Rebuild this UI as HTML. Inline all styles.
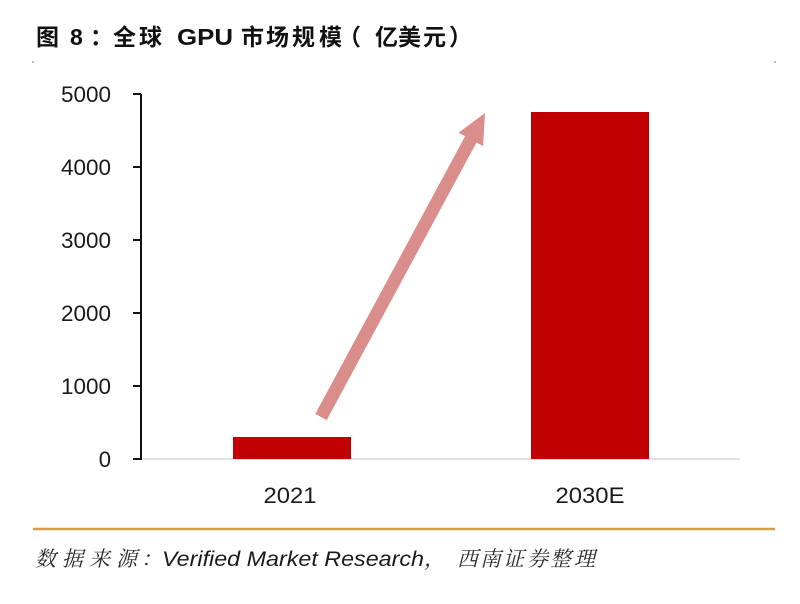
<!DOCTYPE html>
<html>
<head>
<meta charset="utf-8">
<style>
html,body{margin:0;padding:0;background:#fff;}
svg{display:block;}
.t{font-family:"Liberation Sans","Noto Sans CJK SC",sans-serif;font-weight:bold;font-size:23px;fill:#111;}
.y{font-family:"Liberation Sans",sans-serif;font-size:22px;fill:#1a1a1a;}
.s{font-family:"Liberation Sans","Noto Serif CJK SC",serif;font-style:italic;font-size:21px;fill:#2a2a2a;}
.l{font-family:"Liberation Sans",sans-serif;font-style:italic;font-size:21px;fill:#1a1a1a;}
</style>
</head>
<body>
<svg width="800" height="604" viewBox="0 0 800 604" xmlns="http://www.w3.org/2000/svg">
<rect x="0" y="0" width="800" height="604" fill="#fff"/>
<!-- title -->
<text class="t" x="36" y="45">图</text>
<text class="t" x="70" y="45">8</text>
<text class="t" x="90" y="45">：</text>
<text class="t" x="113" y="45">全</text>
<text class="t" x="139" y="45">球</text>
<text class="t" x="177" y="45" textLength="56" lengthAdjust="spacingAndGlyphs">GPU</text>
<text class="t" x="241" y="45">市</text>
<text class="t" x="266" y="45">场</text>
<text class="t" x="292" y="45">规</text>
<text class="t" x="319" y="45">模</text>
<text class="t" x="338" y="45">（</text>
<text class="t" x="375" y="45">亿</text>
<text class="t" x="398" y="45">美</text>
<text class="t" x="423" y="45">元</text>
<text class="t" x="449" y="45">）</text>
<!-- corner dots -->
<rect x="32" y="61" width="2" height="2" fill="#bbb"/>
<rect x="774" y="61" width="2" height="2" fill="#bbb"/>
<!-- y axis -->
<line x1="141" y1="94" x2="141" y2="460" stroke="#111" stroke-width="2"/>
<g stroke="#111" stroke-width="2">
<line x1="133" y1="94" x2="141" y2="94"/>
<line x1="133" y1="167" x2="141" y2="167"/>
<line x1="133" y1="240" x2="141" y2="240"/>
<line x1="133" y1="313" x2="141" y2="313"/>
<line x1="133" y1="386" x2="141" y2="386"/>
<line x1="133" y1="459" x2="141" y2="459"/>
</g>
<text class="y" x="111" y="102" text-anchor="end" textLength="50" lengthAdjust="spacingAndGlyphs">5000</text>
<text class="y" x="111" y="175" text-anchor="end" textLength="50" lengthAdjust="spacingAndGlyphs">4000</text>
<text class="y" x="111" y="248" text-anchor="end" textLength="50" lengthAdjust="spacingAndGlyphs">3000</text>
<text class="y" x="111" y="321" text-anchor="end" textLength="50" lengthAdjust="spacingAndGlyphs">2000</text>
<text class="y" x="111" y="394" text-anchor="end" textLength="50" lengthAdjust="spacingAndGlyphs">1000</text>
<text class="y" x="111" y="467" text-anchor="end">0</text>
<!-- baseline -->
<line x1="142" y1="459" x2="740" y2="459" stroke="#d9d9d9" stroke-width="1.5"/>
<!-- bars -->
<rect x="233" y="437" width="118" height="22" fill="#c00000"/>
<rect x="531" y="112" width="118" height="347" fill="#c00000"/>
<!-- arrow -->
<polygon points="315.3,413.9 465.1,136.3 458.5,132.8 485,113 483.1,146.1 476.5,142.5 326.7,420.1" fill="#d98e8c"/>
<!-- x labels -->
<text class="y" x="290" y="503" text-anchor="middle" textLength="53" lengthAdjust="spacingAndGlyphs">2021</text>
<text class="y" x="590" y="503" text-anchor="middle" textLength="69" lengthAdjust="spacingAndGlyphs">2030E</text>
<!-- orange rule -->
<line x1="33" y1="529" x2="775" y2="529" stroke="#d09c4c" stroke-width="2.5"/>
<!-- source -->
<text class="s" x="35" y="566">数</text>
<text class="s" x="62" y="566">据</text>
<text class="s" x="89" y="566">来</text>
<text class="s" x="116" y="566">源</text>
<text class="s" x="141" y="566">：</text>
<text class="l" x="162" y="566" textLength="262" lengthAdjust="spacingAndGlyphs">Verified Market Research</text>
<text class="s" x="424" y="566">，</text>
<text class="s" x="457" y="566">西</text>
<text class="s" x="480" y="566">南</text>
<text class="s" x="503" y="566">证</text>
<text class="s" x="527" y="566">券</text>
<text class="s" x="550" y="566">整</text>
<text class="s" x="574" y="566">理</text>
</svg>
</body>
</html>
